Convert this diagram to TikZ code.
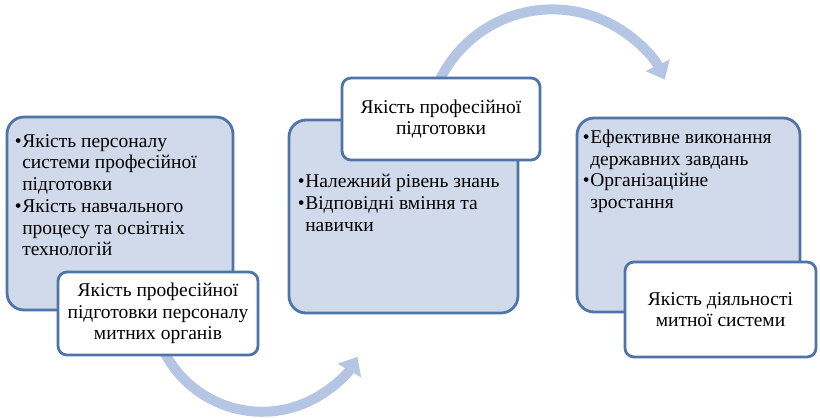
\documentclass[tikz,border=0pt]{standalone}
\usepackage{fontspec}
\setmainfont{Liberation Serif}
\newfontfamily\boxfont{Liberation Serif}
\usetikzlibrary{arrows.meta}
\definecolor{edgeblue}{RGB}{78,116,168}
\definecolor{fillblue}{RGB}{209,218,234}
\definecolor{flowblue}{RGB}{180,198,228}
\newcommand{\bul}{\makebox[7.5pt][l]{\textbullet}}
\newcommand{\ind}{\hspace*{7.5pt}}
\tikzset{
  panel/.style={draw=edgeblue, fill=fillblue, line width=2.8pt, rounded corners=17pt, inner sep=0pt},
  caption/.style={draw=edgeblue, fill=white, line width=2.8pt, rounded corners=9pt, inner sep=0pt,
    align=center, font=\boxfont\fontsize{19.5}{21.5}\selectfont},
  points/.style={anchor=north west, align=left, inner sep=0pt, font=\boxfont\fontsize{19.5}{21.7}\selectfont},
  flow/.style={draw=flowblue, line width=10pt, -{Triangle[length=16pt,width=26pt]}}
}
\begin{document}
\begin{tikzpicture}[x=1pt,y=1pt]
  \useasboundingbox (0,0) rectangle (820,418);
  % panels
  \node[panel, minimum width=226pt, minimum height=193pt] (b1) at (120,204.5) {};
  \node[panel, minimum width=229pt, minimum height=193pt] (b2) at (403.5,201.5) {};
  \node[panel, minimum width=223pt, minimum height=194pt] (b3) at (688.5,203) {};
  % caption frames, placed first so the arrows can start beneath them
  \node[caption, draw=none, fill=none, minimum width=200pt, minimum height=83pt] (w1pos) at (158,104.5) {};
  \node[caption, draw=none, fill=none, minimum width=198pt, minimum height=82pt] (w2pos) at (441,299) {};
  \draw[flow] ([shift={(7,3)}]w1pos.south) arc[start angle=208, end angle=330, radius=110];
  \draw[flow] ([shift={(-1,-3)}]w2pos.north) arc[start angle=154, end angle=26, radius=125];
  % bullet texts
  \node[points] at ([shift={(9,-18.5)}]b1.north west)
    {\bul Якість персоналу\\ \ind системи професійної\\ \ind підготовки\\
     \bul Якість навчального\\ \ind процесу та освітніх\\ \ind технологій};
  \node[points] at ([shift={(10,-55.5)}]b2.north west)
    {\bul Належний рівень знань\\ \bul Відповідні вміння та\\ \ind навички};
  \node[points] at ([shift={(7,-13)}]b3.north west)
    {\bul Ефективне виконання\\ \ind державних завдань\\ \bul Організаційне\\ \ind зростання};
  % captions
  \node[caption, minimum width=200pt, minimum height=83pt] (w1) at (158,104.5)
    {Якість професійної\\підготовки персоналу\\митних органів};
  \node[caption, minimum width=198pt, minimum height=82pt] (w2) at (441,299)
    {Якість професійної\\підготовки};
  \node[caption, minimum width=191pt, minimum height=95pt] (w3) at (720.5,108.5)
    {Якість діяльності\\митної системи};
\end{tikzpicture}
\end{document}
